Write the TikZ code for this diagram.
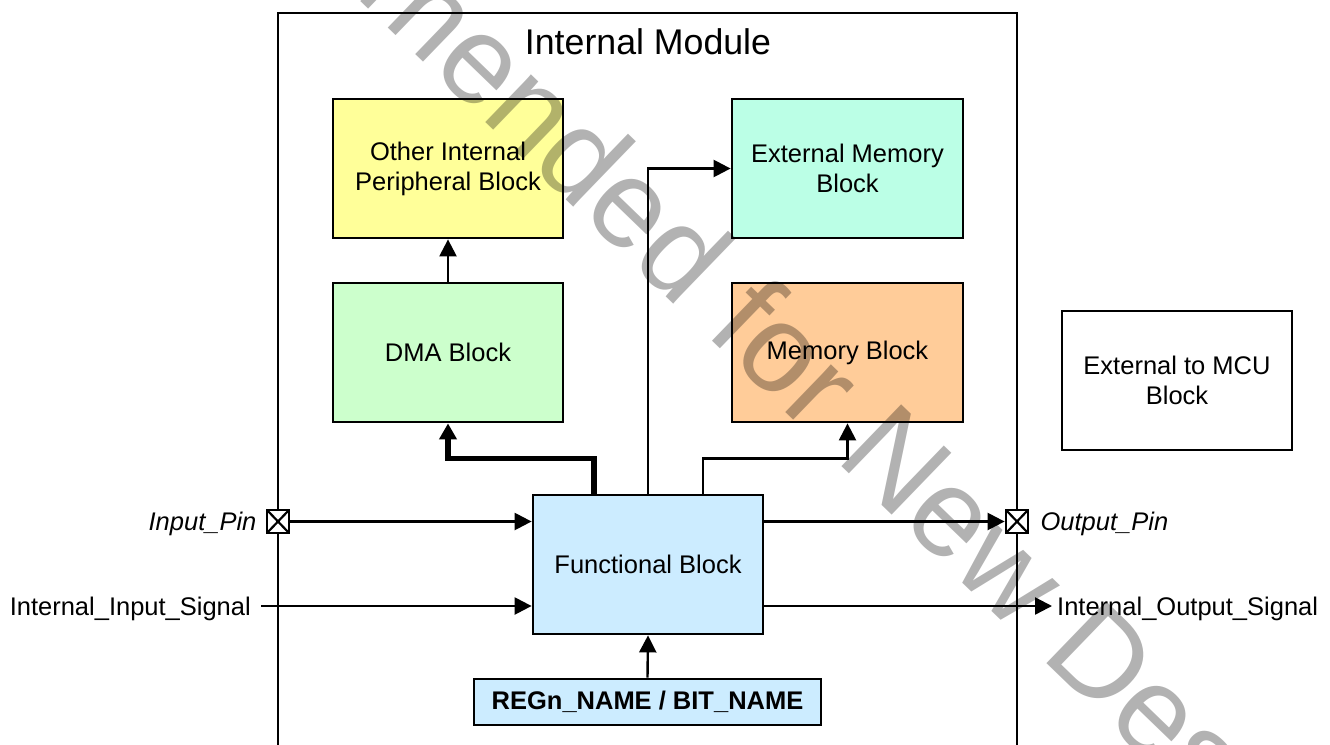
\documentclass[tikz,border=0pt]{standalone}
\usepackage{fontspec}
\setmainfont{Liberation Sans}
\usetikzlibrary{arrows.meta,positioning,calc}
\definecolor{cyel}{RGB}{255,255,153}
\definecolor{cmint}{RGB}{187,255,230}
\definecolor{cgreen}{RGB}{204,255,204}
\definecolor{cpeach}{RGB}{255,204,153}
\definecolor{cblue}{RGB}{204,236,255}
\tikzset{
  body/.style={font=\fontsize{25.5}{30}\selectfont},
  blk/.style={draw=black, line width=2.8pt, minimum width=230pt, minimum height=139pt, align=center, body, inner sep=2pt},
  pinbox/.style={draw=black, fill=white, line width=2.8pt, minimum width=22pt, minimum height=23pt, inner sep=0pt,
    path picture={\draw[line width=2.2pt] (path picture bounding box.north west) -- (path picture bounding box.south east)
      (path picture bounding box.north east) -- (path picture bounding box.south west);}},
  lbl/.style={body, inner sep=0pt, text height=18.3pt, text depth=0pt},
  arr/.style={line width=2.4pt, -{Triangle[length=17pt,width=17pt]}},
  thickarr/.style={line width=5.5pt, -{Triangle[length=16pt,width=17pt]}},
  wire/.style={line width=2.4pt},
}
\begin{document}
\begin{tikzpicture}[x=1pt,y=-1pt]
\useasboundingbox (0,0) rectangle (1330,744);
% outer module frame
\draw[line width=2.8pt] (278,760) -- (278,13) -- (1017,13) -- (1017,760);
\node[lbl, font=\fontsize{35.7}{40}\selectfont, text height=25.6pt] (title) at (648,42) {Internal Module};
% blocks
\node[blk, fill=cyel] (other) at (448,168.5) {Other Internal\\Peripheral Block};
\node[blk, fill=cmint, minimum width=231pt] (extmem) at (847.5,168.5) {External Memory\\Block};
\node[blk, fill=cgreen] (dma) at (448,352.5) {DMA Block};
\node[blk, fill=cpeach, minimum width=231pt] (mem) at (847.5,352.5) {Memory Block};
\node[blk, fill=white] (extmcu) at (1177,380.5) {External to MCU\\Block};
\node[blk, fill=cblue] (func) at (648,564.5) {Functional Block};
\node[blk, fill=cblue, minimum width=347pt, minimum height=46pt, font=\fontsize{25.5}{30}\selectfont\bfseries] (reg) at (647.5,702) {REGn\_NAME / BIT\_NAME};
% pins
\node[pinbox] (inpin) at (278,521.5) {};
\node[pinbox] (outpin) at (1017,521.5) {};
\node[lbl, anchor=east, font=\fontsize{25.5}{30}\selectfont\itshape] (inlbl) at ([xshift=-9pt]inpin.west) {Input\_Pin};
\node[lbl, anchor=west, font=\fontsize{25.5}{30}\selectfont\itshape] (outlbl) at ([xshift=11pt]outpin.east) {Output\_Pin};
\node[lbl, anchor=east] (insig) at (251,606) {Internal\_Input\_Signal};
\node[lbl, anchor=west] (outsig) at (1057,606) {Internal\_Output\_Signal};
% connectors
\draw[arr] (inpin.east) -- (func.west |- inpin.east);
\draw[arr] ([xshift=10pt]insig.east) -- (func.west |- insig.east);
\draw[arr] (func.east |- outpin.west) -- (outpin.west);
\draw[arr] (func.east |- outsig.west) -- ([xshift=-5pt]outsig.west);
\draw[arr] (reg.north) -- (func.south);
\draw[arr] (dma.north) -- (other.south);
\draw[thickarr] ([xshift=-54pt]func.north) -- ++(0,-35) -| (dma.south);
\draw[arr] (func.north) |- (extmem.west);
\draw[arr] ([xshift=55pt]func.north) -- ++(0,-35) -| (mem.south);
% watermark
\node[rotate=-44, text=black, text opacity=0.3, inner sep=0pt, font=\fontsize{125}{125}\selectfont] (wm) at (657,243) {Not Recommended for New Designs};
\end{tikzpicture}
\end{document}
